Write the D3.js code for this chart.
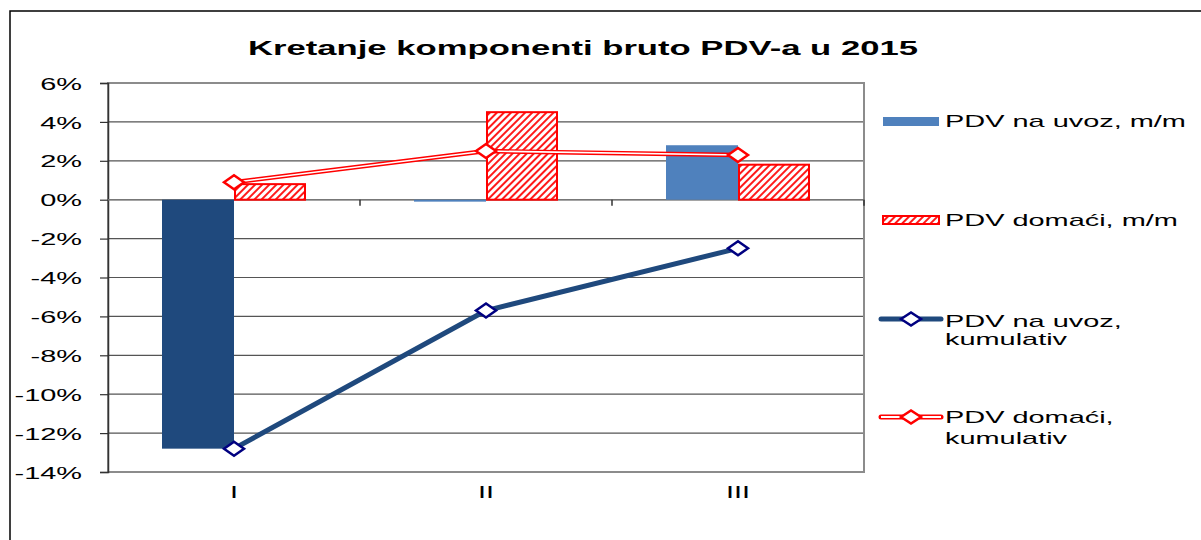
<!DOCTYPE html>
<html>
<head>
<meta charset="utf-8">
<script src="https://cdn.jsdelivr.net/npm/d3@7"></script>
<style>
  html, body { margin: 0; padding: 0; background: #fff; }
  svg { display: block; }
  text { font-family: "Liberation Sans", Arial, sans-serif; fill: #000; }
</style>
</head>
<body>
<script>
// ---- data ----
const categories = ["I", "II", "III"];
const uvozMM = [-12.8, -0.1, 2.8];        // PDV na uvoz, m/m (bars)
const domaciMM = [0.8, 4.5, 1.8];         // PDV domaći, m/m (hatched bars)
const uvozKum = [-12.8, -5.7, -2.5];      // PDV na uvoz, kumulativ (line)
const domaciKum = [0.9, 2.5, 2.3];        // PDV domaći, kumulativ (line)
const yTicks = [-14, -12, -10, -8, -6, -4, -2, 0, 2, 4, 6];
const title = "Kretanje komponenti bruto PDV-a u 2015";
const legendLabels = [["PDV na uvoz, m/m"], ["PDV domaći, m/m"], ["PDV na uvoz,", "kumulativ"], ["PDV domaći,", "kumulativ"]];

// ---- styles ----
const W = 1201, H = 540;
const SX = 1.7; // horizontal text stretch seen in the reference
const barColors = ["#1F497D", "#4F81BD", "#4F81BD"];
const navy = "#1F497D", navyMarker = "#000080", red = "#FF0000";

const svg = d3.select("body").append("svg").attr("width", W).attr("height", H);
const defs = svg.append("defs");
const pat = defs.append("pattern").attr("id", "hatch").attr("patternUnits", "userSpaceOnUse")
  .attr("width", 5).attr("height", 5).attr("patternTransform", "rotate(45)");
pat.append("rect").attr("width", 5).attr("height", 5).attr("fill", "#fff");
pat.append("line").attr("x1", 1).attr("y1", 0).attr("x2", 1).attr("y2", 5)
  .attr("stroke", red).attr("stroke-width", 1.8);

// outer frame (left + top visible)
svg.append("path").attr("d", `M10,${H+5} L10,11 L${W+5},11`).attr("fill", "none")
  .attr("stroke", "#000").attr("stroke-width", 1.5);

const x0 = 108, x1 = 864, yTop = 83, yBot = 472;
const x = d3.scaleBand().domain(categories).range([x0, x1]).paddingInner(0).paddingOuter(0);
const y = d3.scaleLinear().domain([-14, 6]).range([yBot, yTop]);
const barW = 72;

// gridlines
svg.append("g").selectAll("line").data(yTicks).join("line")
  .attr("x1", x0).attr("x2", x1).attr("y1", d => y(d)).attr("y2", d => y(d))
  .attr("stroke", "#555").attr("stroke-width", 1.2);

// plot area border
svg.append("rect").attr("x", x0).attr("y", yTop).attr("width", x1 - x0).attr("height", yBot - yTop)
  .attr("fill", "none").attr("stroke", "#8c8c8c").attr("stroke-width", 2);

// y axis
const yAxis = d3.axisLeft(y).tickValues(yTicks).tickSize(8).tickPadding(18)
  .tickFormat(d => d + "%");
const gy = svg.append("g").attr("transform", `translate(${x0},0)`).call(yAxis);
gy.select(".domain").attr("stroke", "#333").attr("stroke-width", 1.5);
gy.selectAll(".tick line").attr("stroke", "#333").attr("stroke-width", 1.2);
gy.selectAll(".tick text").attr("font-size", 17).attr("fill", "#111")
  .attr("font-family", "Liberation Sans, Arial, sans-serif").attr("x", -26).attr("dy", "0.36em");

// x axis at zero with ticks at category boundaries
const zeroY = y(0);
svg.append("line").attr("x1", x0).attr("x2", x1).attr("y1", zeroY).attr("y2", zeroY)
  .attr("stroke", "#777").attr("stroke-width", 1.5);
const bounds = categories.map(c => x(c) + x.bandwidth());
svg.append("g").selectAll("line").data(bounds).join("line")
  .attr("x1", d => d).attr("x2", d => d).attr("y1", zeroY).attr("y2", zeroY + 6)
  .attr("stroke", "#333").attr("stroke-width", 1.5);
// category labels at bottom
svg.append("g").selectAll("text").data(categories).join("text")
  .attr("x", d => x(d) + x.bandwidth() / 2).attr("y", 498)
  .attr("text-anchor", "middle").attr("font-size", 17).text(d => d);

const cx = c => x(c) + x.bandwidth() / 2;

// bars: uvoz m/m
svg.append("g").selectAll("rect").data(uvozMM).join("rect")
  .attr("x", (d, i) => cx(categories[i]) - barW)
  .attr("y", d => Math.min(y(d), y(0)))
  .attr("width", barW)
  .attr("height", d => Math.max(1.5, Math.abs(y(d) - y(0))))
  .attr("fill", (d, i) => barColors[i]);

// bars: domaci m/m (hatched)
svg.append("g").selectAll("rect").data(domaciMM).join("rect")
  .attr("x", (d, i) => cx(categories[i]) + 1)
  .attr("y", d => Math.min(y(d), y(0)))
  .attr("width", barW - 2)
  .attr("height", d => Math.abs(y(d) - y(0)))
  .attr("fill", "url(#hatch)").attr("stroke", red).attr("stroke-width", 2);

const diamond = (hw, hh) => `M${-hw},0 L0,${-hh} L${hw},0 L0,${hh} Z`;
const lineGen = d3.line().x((d, i) => cx(categories[i])).y(d => y(d));

// line: uvoz kumulativ
svg.append("path").datum(uvozKum).attr("d", lineGen).attr("fill", "none")
  .attr("stroke", navy).attr("stroke-width", 5).attr("stroke-linejoin", "round");
svg.append("g").selectAll("path").data(uvozKum).join("path")
  .attr("transform", (d, i) => `translate(${cx(categories[i])},${y(d)})`)
  .attr("d", diamond(10, 7)).attr("fill", "#fff").attr("stroke", navyMarker).attr("stroke-width", 2.5);

// line: domaci kumulativ (double line)
svg.append("path").datum(domaciKum).attr("d", lineGen).attr("fill", "none")
  .attr("stroke", red).attr("stroke-width", 4.5).attr("stroke-linejoin", "round");
svg.append("path").datum(domaciKum).attr("d", lineGen).attr("fill", "none")
  .attr("stroke", "#fff").attr("stroke-width", 1.6).attr("stroke-linejoin", "round");
svg.append("g").selectAll("path").data(domaciKum).join("path")
  .attr("transform", (d, i) => `translate(${cx(categories[i])},${y(d)})`)
  .attr("d", diamond(10, 7)).attr("fill", "#fff").attr("stroke", red).attr("stroke-width", 2.5);

// title
svg.append("text").attr("class", "title").attr("x", 583).attr("y", 55).attr("text-anchor", "middle")
  .attr("font-size", 21).attr("font-weight", "bold").text(title);

// legend
const lg = svg.append("g");
// item 1: solid swatch
lg.append("rect").attr("x", 883).attr("y", 117).attr("width", 56).attr("height", 9).attr("fill", "#4F81BD");
// item 2: hatched swatch
lg.append("rect").attr("x", 883).attr("y", 216).attr("width", 56).attr("height", 8)
  .attr("fill", "url(#hatch)").attr("stroke", red).attr("stroke-width", 2);
// item 3: navy line
lg.append("line").attr("x1", 881).attr("x2", 941).attr("y1", 319).attr("y2", 319)
  .attr("stroke", navy).attr("stroke-width", 5).attr("stroke-linecap", "round");
lg.append("path").attr("transform", "translate(911,319)").attr("d", diamond(10, 6.5))
  .attr("fill", "#fff").attr("stroke", navyMarker).attr("stroke-width", 2.5);
// item 4: red double line
lg.append("line").attr("x1", 881).attr("x2", 941).attr("y1", 417).attr("y2", 417)
  .attr("stroke", red).attr("stroke-width", 5).attr("stroke-linecap", "round");
lg.append("line").attr("x1", 881).attr("x2", 941).attr("y1", 417).attr("y2", 417)
  .attr("stroke", "#fff").attr("stroke-width", 1.8);
lg.append("path").attr("transform", "translate(911,417)").attr("d", diamond(10, 6.5))
  .attr("fill", "#fff").attr("stroke", red).attr("stroke-width", 2.5);

const legendBaselines = [[127], [226], [327, 345], [423, 444]];
legendLabels.forEach((lines, i) => {
  lines.forEach((t, j) => {
    lg.append("text").attr("x", 945).attr("y", legendBaselines[i][j])
      .attr("font-size", 17).text(t);
  });
});

// stretch all text horizontally like the reference
svg.selectAll("text").each(function () {
  const w = this.getComputedTextLength();
  const isTitle = d3.select(this).classed("title");
  d3.select(this).attr("textLength", isTitle ? 670 : w * SX).attr("lengthAdjust", "spacingAndGlyphs");
});
</script>
</body>
</html>
